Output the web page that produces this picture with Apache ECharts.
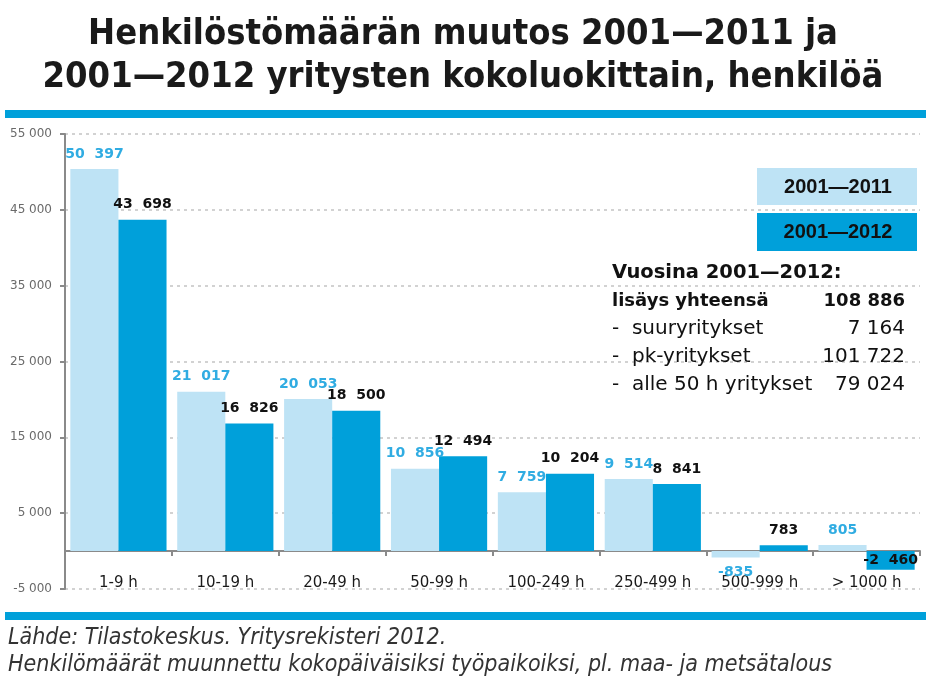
<!DOCTYPE html>
<html>
<head>
<meta charset="utf-8">
<script src="https://cdn.jsdelivr.net/npm/echarts@6/dist/echarts.min.js"></script>
<style>html,body{margin:0;padding:0;background:#fff;}#c{width:926px;height:679px;}</style>
</head>
<body>
<div id="c"></div>
<script>
// ---- data ----
const titleLines = ['Henkilöstömäärän muutos 2001—2011 ja', '2001—2012 yritysten kokoluokittain, henkilöä'];
const categories = ['1-9 h', '10-19 h', '20-49 h', '50-99 h', '100-249 h', '250-499 h', '500-999 h', '> 1000 h'];
const seriesNames = ['2001—2011', '2001—2012'];
const change2011 = [50397, 21017, 20053, 10856, 7759, 9514, -835, 805];
const change2012 = [43698, 16826, 18500, 12494, 10204, 8841, 783, -2460];
const yMin = -5000, yMax = 55000, yInterval = 10000;
const summaryHeading = 'Vuosina 2001—2012:';
const summaryLabels = ['lisäys yhteensä', '-  suuryritykset', '-  pk-yritykset', '-  alle 50 h yritykset'];
const summaryValues = ['108 886', '7 164', '101 722', '79 024'];
const footnotes = ['Lähde: Tilastokeskus. Yritysrekisteri 2012.', 'Henkilömäärät muunnettu kokopäiväisiksi työpaikoiksi, pl. maa- ja metsätalous'];

// ---- styles ----
const LIGHT = '#BEE3F5', DARK = '#00A0DA';
const fmt = (v, sep) => {
  const s = String(Math.abs(v)).replace(/\B(?=(\d{3})+(?!\d))/g, sep);
  return (v < 0 ? '-' : '') + s;
};

function buildData(values, negLabel) {
  return values.map(v => v < 0 ? { value: v, label: negLabel } : v);
}

const chart = echarts.init(document.getElementById('c'), null, { renderer: 'canvas' });

const SUMFONT = '"DejaVu Sans", sans-serif';
const graphics = [
  { type: 'rect', shape: { x: 5, y: 110, width: 921, height: 8 }, style: { fill: DARK } },
  { type: 'rect', shape: { x: 5, y: 612, width: 921, height: 8 }, style: { fill: DARK } },
  { type: 'rect', shape: { x: 757, y: 168, width: 160, height: 37 }, style: { fill: LIGHT }, z: 10 },
  { type: 'text', x: 838, y: 187, style: { text: seriesNames[0], align: 'center', verticalAlign: 'middle', font: 'bold 20px "Liberation Sans", Arial', fill: '#111' }, z: 11 },
  { type: 'rect', shape: { x: 757, y: 213, width: 160, height: 38 }, style: { fill: DARK }, z: 10 },
  { type: 'text', x: 838, y: 232.5, style: { text: seriesNames[1], align: 'center', verticalAlign: 'middle', font: 'bold 20px "Liberation Sans", Arial', fill: '#111' }, z: 11 },
  { type: 'text', x: 612, y: 273, style: { text: summaryHeading, verticalAlign: 'middle', font: 'bold 19.5px ' + SUMFONT, fill: '#111' }, z: 11 }
];
const rowY = [301, 329, 357, 385];
summaryLabels.forEach((t, i) => {
  const f = i === 0 ? 'bold 18px ' : '20px ';
  graphics.push({ type: 'text', x: 612, y: rowY[i], style: { text: t, verticalAlign: 'middle', font: f + SUMFONT, fill: '#111' }, z: 11 });
  graphics.push({ type: 'text', x: 905, y: rowY[i], style: { text: summaryValues[i], align: 'right', verticalAlign: 'middle', font: f + SUMFONT, fill: '#111' }, z: 11 });
});
footnotes.forEach((t, i) => {
  graphics.push({ type: 'text', x: 8, y: 638 + i * 27, style: { text: t, verticalAlign: 'middle', font: 'italic 23px "DejaVu Sans Condensed", sans-serif', fill: '#333' } });
});

const option = {
  backgroundColor: '#fff',
  animation: false,
  title: {
    text: titleLines.join('\n'),
    left: 'center',
    top: 8,
    textStyle: { fontFamily: '"DejaVu Sans Condensed", sans-serif', fontWeight: 'bold', fontSize: 36, lineHeight: 43, color: '#1a1a1a' }
  },
  grid: { left: 65, right: 6, top: 134, bottom: 90, containLabel: false },
  xAxis: {
    type: 'category',
    data: categories,
    axisLine: { onZero: true, lineStyle: { color: '#8a8a8a', width: 2 } },
    axisTick: { show: true, length: 5, lineStyle: { color: '#8a8a8a', width: 2 } },
    axisLabel: { margin: -13, fontFamily: '"DejaVu Sans", sans-serif', fontSize: 15, color: '#1a1a1a' }
  },
  yAxis: {
    type: 'value',
    min: yMin, max: yMax, interval: yInterval,
    axisLine: { show: true, lineStyle: { color: '#8a8a8a', width: 2 } },
    axisTick: { show: true, length: 5, inside: false, lineStyle: { color: '#8a8a8a', width: 2 } },
    axisLabel: { margin: 13, fontFamily: '"DejaVu Sans", sans-serif', fontSize: 12, color: '#6a6a6a', formatter: v => fmt(v, ' ') },
    splitLine: { show: true, lineStyle: { color: '#c4c4c4', type: [3, 4], width: 1.5 } }
  },
  series: [
    {
      name: seriesNames[0], type: 'bar',
      data: buildData(change2011, { position: 'bottom' }),
      itemStyle: { color: LIGHT },
      barGap: '0%', barCategoryGap: '10%',
      label: { show: true, position: 'top', distance: 8, color: '#30ACE2', fontFamily: '"DejaVu Sans", sans-serif', fontWeight: 'bold', fontSize: 14, formatter: p => fmt(p.value, '  ') }
    },
    {
      name: seriesNames[1], type: 'bar',
      data: buildData(change2012, { position: 'inside', color: '#111' }),
      itemStyle: { color: DARK },
      barGap: '0%', barCategoryGap: '10%',
      label: { show: true, position: 'top', distance: 8, color: '#111', fontFamily: '"DejaVu Sans", sans-serif', fontWeight: 'bold', fontSize: 14, formatter: p => fmt(p.value, '  ') }
    }
  ],
  graphic: graphics
};
chart.setOption(option);
</script>
</body>
</html>
